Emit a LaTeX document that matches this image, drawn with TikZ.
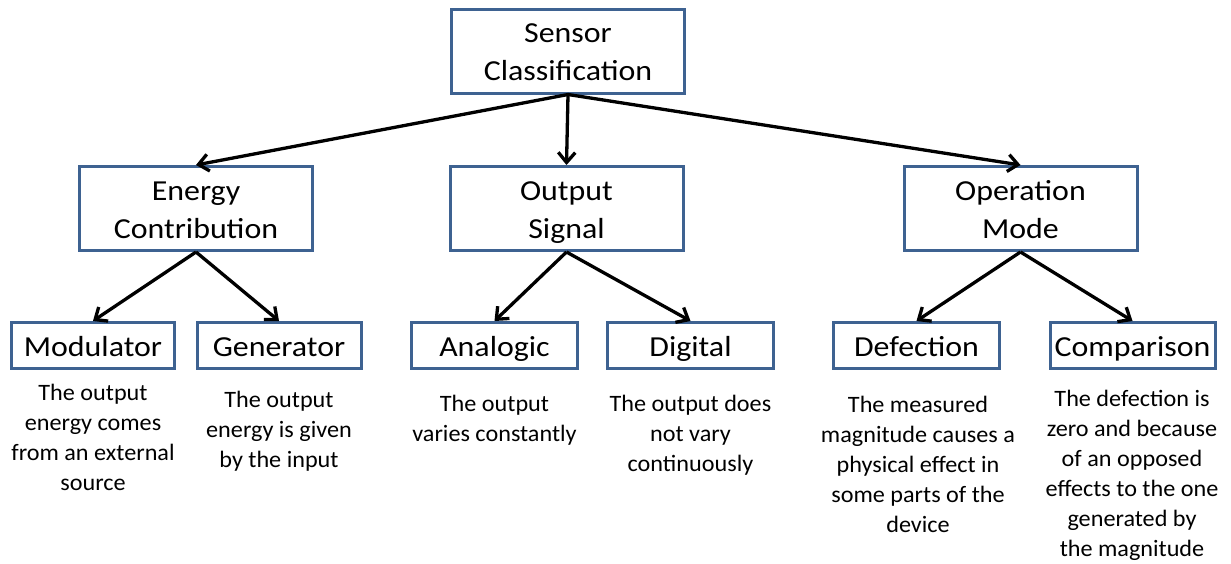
\documentclass[tikz,border=0pt]{standalone}
\usepackage{fontspec}
\setmainfont{Carlito}
\newfontfamily\boxfont[FakeStretch=1.1]{Carlito}
\newfontfamily\descfont[FakeStretch=1.03]{Carlito}
\usetikzlibrary{arrows.meta}
\definecolor{boxblue}{RGB}{62,98,145}
\newcommand{\bs}{\rule[-8.5pt]{0pt}{38pt}}
\begin{document}
\begin{tikzpicture}[x=1pt,y=-1pt,
  catbox/.style={draw=boxblue,line width=3pt,fill=white,inner sep=0pt,align=center,
    font=\boxfont\fontsize{29}{38}\selectfont},
  bigbox/.style={catbox,minimum width=233pt,minimum height=84pt},
  leafbox/.style={catbox,minimum height=46pt},
  desc/.style={align=center,inner sep=0pt,font=\descfont\fontsize{23.5}{30}\selectfont},
  conn/.style={line width=3.3pt,-{Straight Barb[length=10pt,width=17pt]}}]
\useasboundingbox (0,0) rectangle (1231,563);
\node[bigbox] (root) at (568,51) {\bs Sensor\\\bs Classification};
\node[bigbox] (energy) at (196,208.5) {\bs Energy\\\bs Contribution};
\node[bigbox] (output) at (566.5,208.5) {\bs Output\\\bs Signal};
\node[bigbox] (oper) at (1020.5,208.5) {\bs Operation\\\bs Mode};
\node[leafbox,minimum width=163pt] (mod) at (93,345.5) {\bs Modulator};
\node[leafbox,minimum width=164pt] (gen) at (279,345.5) {\bs Generator};
\node[leafbox,minimum width=166pt] (ana) at (494.5,345.5) {\bs Analogic};
\node[leafbox,minimum width=166pt] (dig) at (690.5,345.5) {\bs Digital};
\node[leafbox,minimum width=166pt] (def) at (916.5,345.5) {\bs Defection};
\node[leafbox,minimum width=165pt] (comp) at (1132.5,345.5) {\bs Comparison};
\node[desc] (dmod) at (93,437) {The output\\energy comes\\from an external\\source};
\node[desc] (dgen) at (279,431) {The output\\energy is given\\by the input};
\node[desc] (dana) at (494.5,420) {The output\\varies constantly};
\node[desc] (ddig) at (690.5,435) {The output does\\not vary\\continuously};
\node[desc] (ddef) at (918,464) {The measured\\magnitude causes a\\physical effect in\\some parts of the\\device};
\node[desc] (dcomp) at (1132,475) {The defection is\\zero and because\\of an opposed\\effects to the one\\generated by\\the magnitude};
\draw[conn] (root.south) -- (energy.north);
\draw[conn] (root.south) -- (output.north);
\draw[conn] (root.south) -- (oper.north);
\draw[conn] (energy.south) -- (mod.north);
\draw[conn] (energy.south) -- (gen.north);
\draw[conn] (output.south) -- (ana.north);
\draw[conn] (output.south) -- (dig.north);
\draw[conn] (oper.south) -- (def.north);
\draw[conn] (oper.south) -- (comp.north);
\end{tikzpicture}
\end{document}
